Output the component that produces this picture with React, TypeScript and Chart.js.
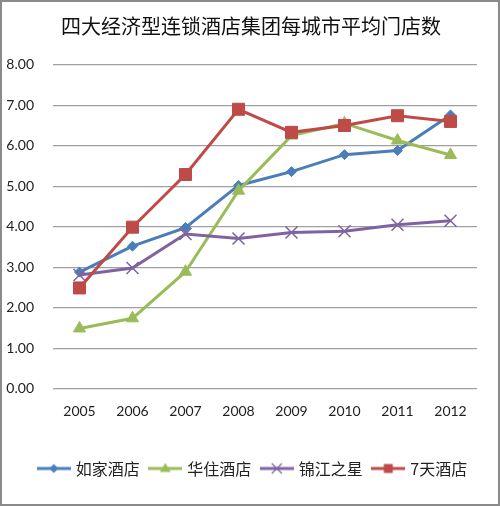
import React, { useEffect, useRef } from 'react';
import { Chart, registerables } from 'chart.js';

Chart.register(...registerables);

const years = ['2005', '2006', '2007', '2008', '2009', '2010', '2011', '2012'];
const seriesNames = ['如家酒店', '华住酒店', '锦江之星', '7天酒店'];
const rujia = [2.88, 3.52, 3.98, 5.02, 5.36, 5.78, 5.88, 6.76];
const huazhu = [1.49, 1.74, 2.89, 4.89, 6.25, 6.55, 6.13, 5.77];
const jinjiang = [2.81, 2.98, 3.82, 3.71, 3.86, 3.89, 4.05, 4.15];
const qitian = [2.49, 3.99, 5.29, 6.9, 6.33, 6.5, 6.74, 6.6];
const yMin = 0;
const yMax = 8;
const yStep = 1;

const colors = ['#4A7EBB', '#9BBB59', '#7F63A1', '#BE4B48'];
const styles = ['rectRot', 'triangle', 'crossRot', 'rect'];
const radii = [5, 7, 8.5, 8.5];

function legendIcon(i: number): HTMLCanvasElement {
  const c = document.createElement('canvas');
  c.width = 34;
  c.height = 16;
  const ctx = c.getContext('2d')!;
  const col = colors[i];
  ctx.strokeStyle = col;
  ctx.fillStyle = col;
  ctx.lineWidth = 3;
  ctx.beginPath();
  ctx.moveTo(0, 8);
  ctx.lineTo(34, 8);
  ctx.stroke();
  const cx = 17;
  const cy = 8;
  ctx.beginPath();
  if (i === 0) {
    ctx.moveTo(cx, cy - 4.5);
    ctx.lineTo(cx + 4.5, cy);
    ctx.lineTo(cx, cy + 4.5);
    ctx.lineTo(cx - 4.5, cy);
    ctx.closePath();
    ctx.fill();
  } else if (i === 1) {
    ctx.moveTo(cx, cy - 5.5);
    ctx.lineTo(cx + 5.5, cy + 3.5);
    ctx.lineTo(cx - 5.5, cy + 3.5);
    ctx.closePath();
    ctx.fill();
  } else if (i === 2) {
    ctx.lineWidth = 1.3;
    ctx.moveTo(cx - 5, cy - 5);
    ctx.lineTo(cx + 5, cy + 5);
    ctx.moveTo(cx + 5, cy - 5);
    ctx.lineTo(cx - 5, cy + 5);
    ctx.stroke();
  } else {
    ctx.rect(cx - 4.5, cy - 4.5, 9, 9);
    ctx.fill();
  }
  return c;
}

const shiftBlocks = {
  id: 'shiftBlocks',
  afterLayout(chart: any) {
    const t = chart.titleBlock;
    if (t) {
      t.left += 11.5;
      t.right += 11.5;
    }
    const l = chart.legend;
    if (l) {
      l.left += 14;
      l.right += 14;
    }
  },
};

export default function App() {
  const ref = useRef<HTMLCanvasElement>(null);

  useEffect(() => {
    if (!ref.current) return;
    const allData = [rujia, huazhu, jinjiang, qitian];
    const icons = [0, 1, 2, 3].map(legendIcon);
    const chart = new Chart(ref.current, {
      type: 'line',
      data: {
        labels: years,
        datasets: allData.map((d, i) => ({
          label: seriesNames[i],
          data: d,
          borderColor: colors[i],
          backgroundColor: colors[i],
          borderWidth: 3,
          tension: 0,
          pointStyle: styles[i] as any,
          pointRadius: radii[i],
          pointHoverRadius: radii[i],
          pointBorderColor: colors[i],
          pointBackgroundColor: colors[i],
          pointBorderWidth: i === 2 ? 1.5 : 1,
          order: 4 - i,
        })),
      },
      plugins: [shiftBlocks],
      options: {
        responsive: false,
        animation: false,
        events: [],
        layout: { padding: { left: 0, right: 21, top: 0, bottom: 17.5 } },
        plugins: {
          tooltip: { enabled: false },
          title: {
            display: true,
            text: '四大经济型连锁酒店集团每城市平均门店数',
            color: '#111',
            font: { family: '"Noto Sans CJK SC"', size: 20, weight: 'normal' },
            padding: { top: 12, bottom: 26.7 },
          },
          legend: {
            display: true,
            position: 'bottom',
            labels: {
              usePointStyle: true,
              pointStyleWidth: 28,
              padding: 11.5,
              color: '#222',
              font: { family: '"Noto Sans CJK SC"', size: 16 },
              sort: (a: any, b: any) => a.datasetIndex - b.datasetIndex,
              generateLabels: (ch: any) => {
                const items = Chart.defaults.plugins.legend.labels.generateLabels(ch);
                return items.map((it: any) => ({ ...it, pointStyle: icons[it.datasetIndex] }));
              },
            },
          },
        },
        scales: {
          x: {
            offset: true,
            grid: { display: false, drawTicks: false },
            border: { display: false },
            ticks: {
              color: '#222',
              font: { family: 'Lato', size: 14 },
              padding: 14,
              maxRotation: 0,
            },
            afterFit: (s: any) => {
              s.height = 60.2;
            },
          },
          y: {
            min: yMin,
            max: yMax,
            grid: { color: '#a0a0a0', lineWidth: 1.3, drawTicks: false },
            border: { display: false },
            ticks: {
              stepSize: yStep,
              color: '#222',
              font: { family: 'Lato', size: 14 },
              padding: 19,
              callback: (v: any) => Number(v).toFixed(2),
            },
            afterFit: (s: any) => {
              s.width = 51;
            },
          },
        },
      },
    });
    return () => chart.destroy();
  }, []);

  return (
    <div
      style={{
        position: 'absolute',
        left: 0,
        top: 0,
        width: 500,
        height: 506,
        boxSizing: 'border-box',
        border: '2px solid #8a8a8a',
        background: '#fff',
      }}
    >
      <canvas ref={ref} width={496} height={502} style={{ display: 'block' }} />
    </div>
  );
}
